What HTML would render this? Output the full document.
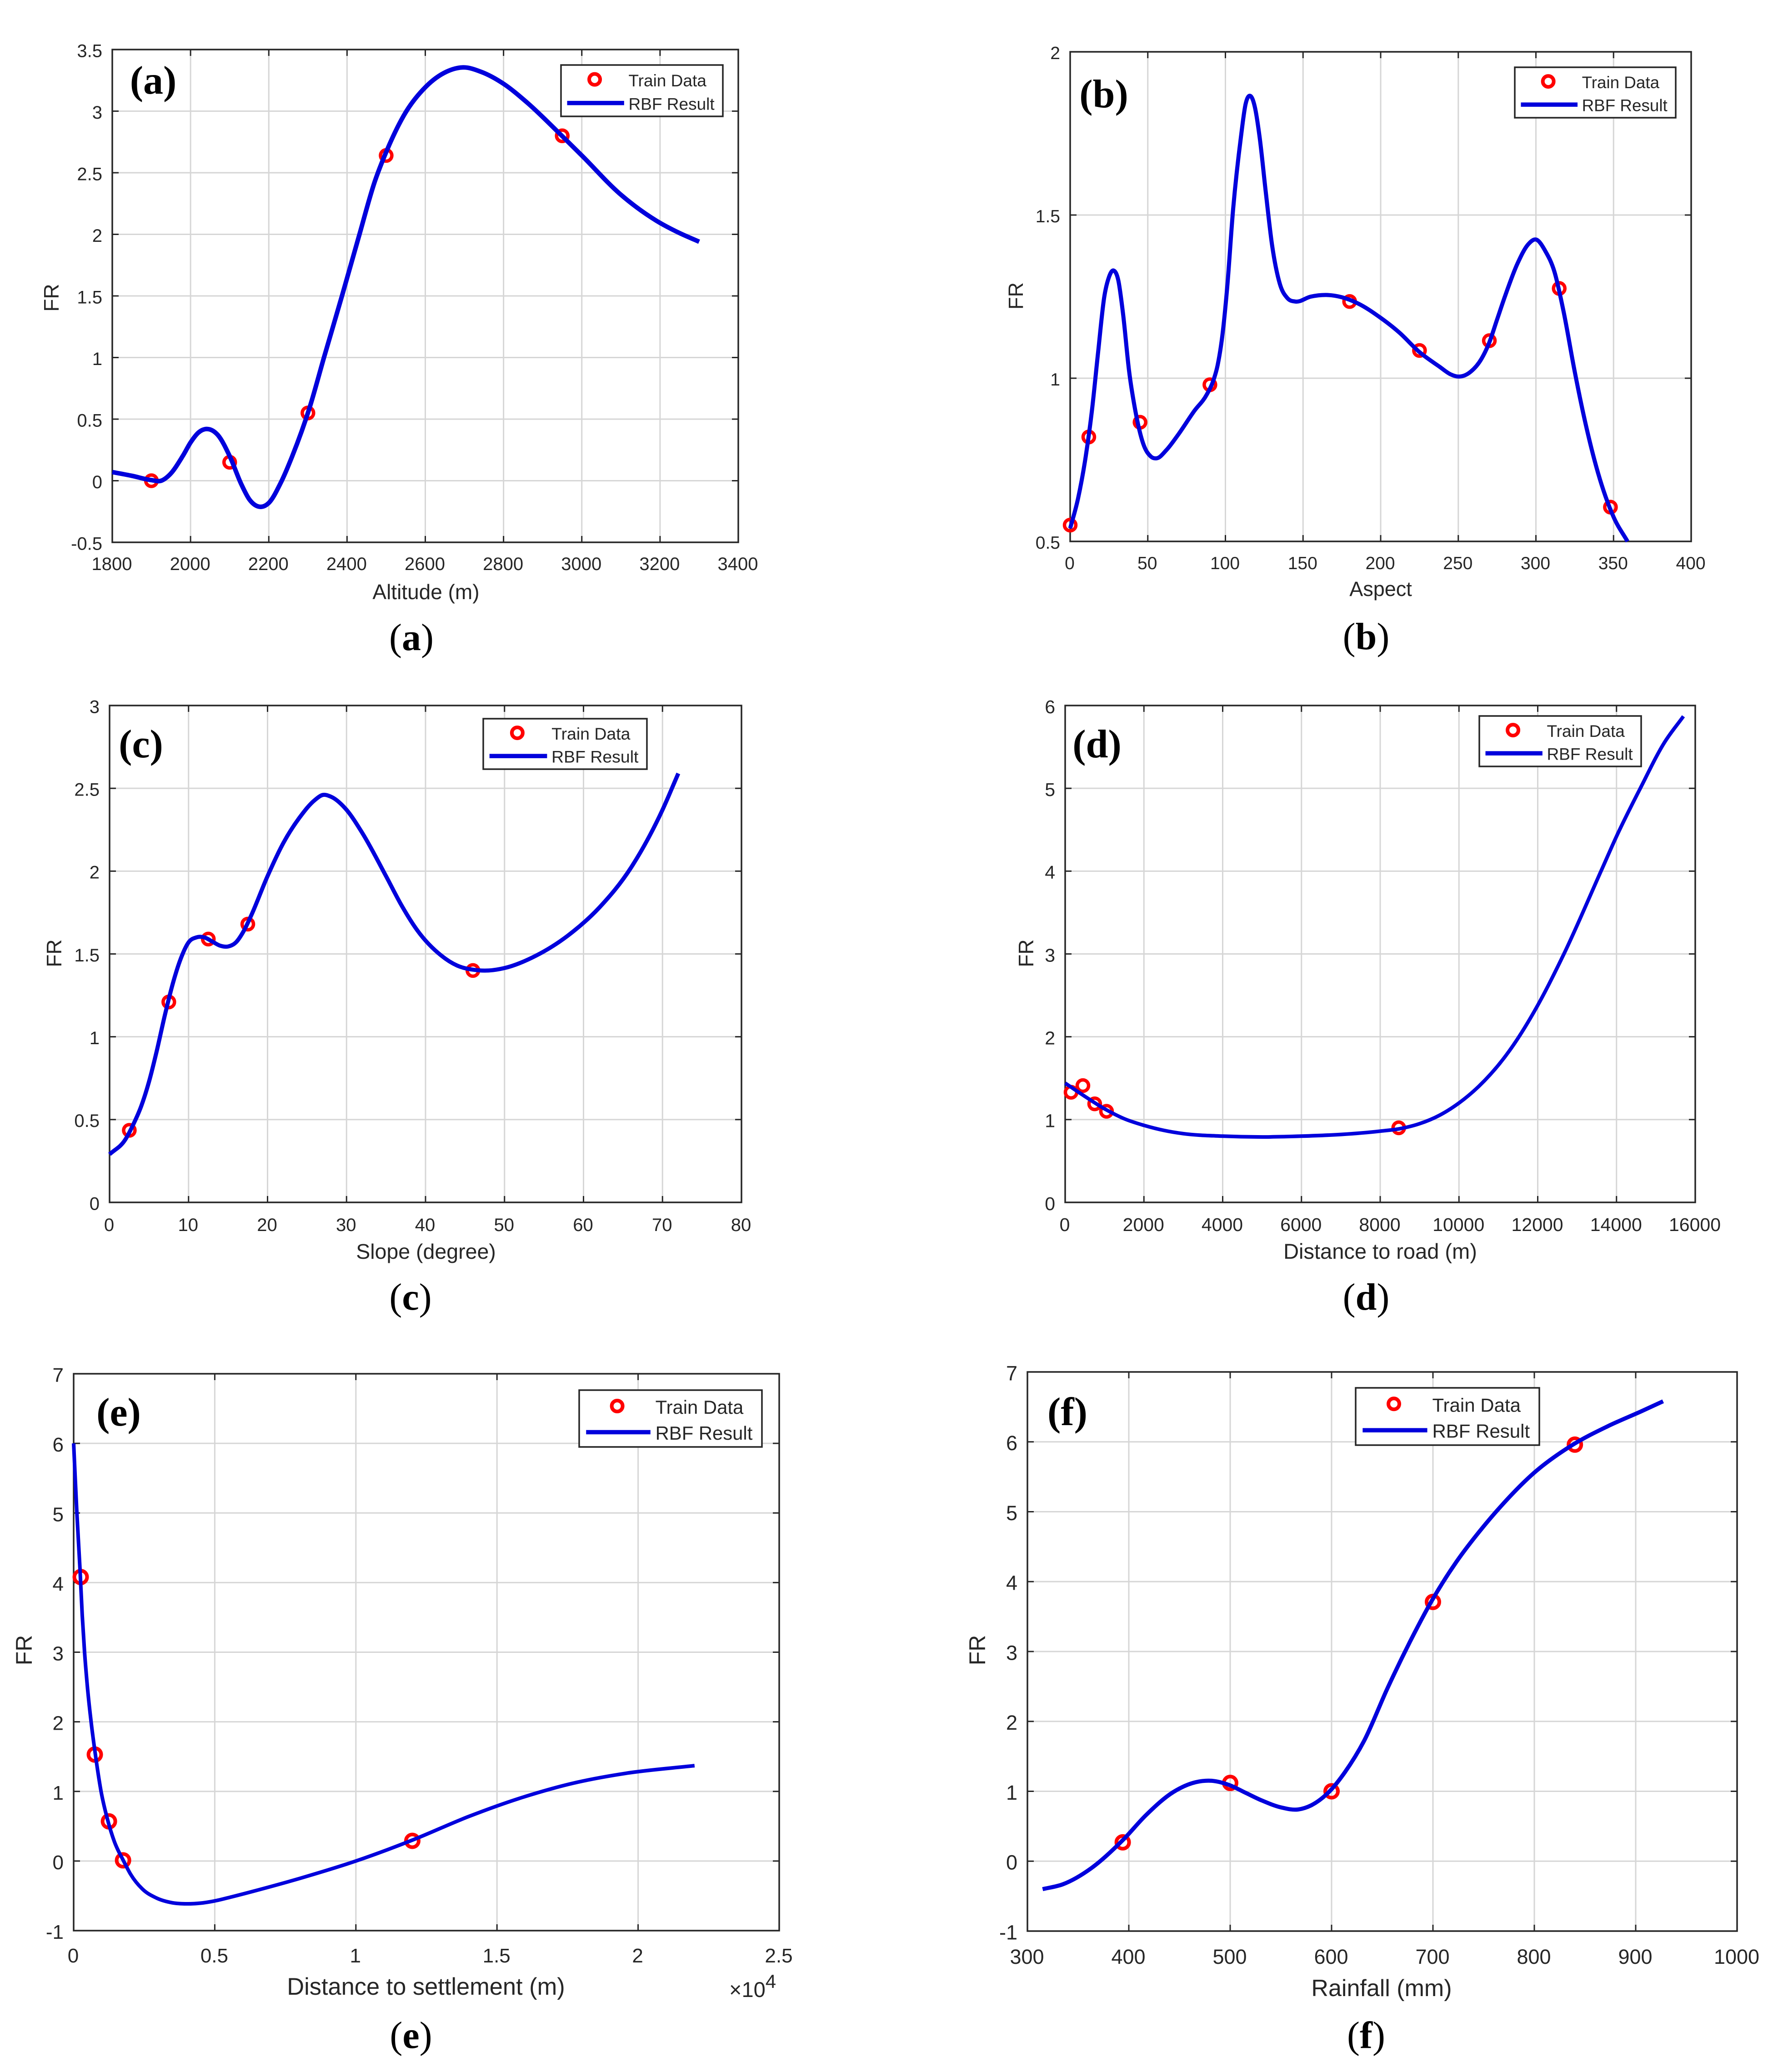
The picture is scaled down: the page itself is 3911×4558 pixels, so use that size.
<!DOCTYPE html>
<html lang="en">
<head>
<meta charset="utf-8">
<title>FR vs conditioning factors: RBF result and train data</title>
<style>
html,body{margin:0;padding:0;background:#fff;}
svg{display:block;}
text{font-family:"Liberation Sans",sans-serif;fill:#262626;}
.serif{font-family:"Liberation Serif",serif;fill:#000;}
</style>
</head>
<body>
<svg id="figure" width="3911" height="4558" viewBox="0 0 3911 4558" xmlns="http://www.w3.org/2000/svg">
<rect x="0" y="0" width="3911" height="4558" fill="#fff"></rect>
</svg>
<script>
// (a) Altitude
const altitudeCurveX = [1800,1850,1900,1925,1947,1980,2000,2020,2043,2070,2100,2130,2150,2174,2200,2230,2260,2305,2341,2388,2430,2471,2503,2548,2602,2654,2698,2742,2801,2860,2949,3000,3097,3191,3250,3300];
const altitudeCurveFR = [0.07,0.04,0.005,0.0,0.05,0.2,0.31,0.39,0.42,0.37,0.2,-0.03,-0.15,-0.21,-0.18,-0.02,0.2,0.6,1.0,1.51,1.98,2.43,2.69,2.98,3.2,3.32,3.355,3.32,3.22,3.07,2.8,2.64,2.33,2.11,2.01,1.94];
const altitudeTrainX = [1900,2100,2300,2500,2950];
const altitudeTrainFR = [0,0.15,0.55,2.64,2.8];
const altitudeXTicks = [1800,2000,2200,2400,2600,2800,3000,3200,3400];
const altitudeYTicks = [-0.5,0,0.5,1,1.5,2,2.5,3,3.5];

// (b) Aspect
const aspectCurveX = [0,5,10,14,18,22,25,28,31,34,38,42,47,52,56,62,70,80,88,92,95,98,101,105,110,113,116,119,122,126,130,135,140,145,155,165,175,185,200,212,225,238,245,250,258,265,270,275,280,288,295,300,306,312,318,325,332,340,350,359];
const aspectCurveFR = [0.54,0.63,0.76,0.9,1.08,1.25,1.31,1.33,1.3,1.2,1.02,0.9,0.8,0.76,0.755,0.78,0.83,0.9,0.95,0.99,1.04,1.13,1.27,1.52,1.74,1.84,1.865,1.83,1.74,1.57,1.41,1.29,1.245,1.235,1.25,1.255,1.248,1.23,1.185,1.14,1.08,1.035,1.012,1.005,1.02,1.06,1.11,1.18,1.25,1.35,1.41,1.425,1.39,1.325,1.2,1.02,0.86,0.71,0.575,0.5];
const aspectTrainX = [0,12,45,90,180,225,270,315,348];
const aspectTrainFR = [0.55,0.82,0.865,0.98,1.235,1.085,1.115,1.275,0.605];
const aspectXTicks = [0,50,100,150,200,250,300,350,400];
const aspectYTicks = [0.5,1,1.5,2];

// (c) Slope
const slopeCurveX = [0,2,3,4,5,6,7,8,9,10,11,12,13,14,15,16,17,18,20,22,24,26,27,28,30,32,35,37,39,42,44,46,48,50,54,58,62,66,70,72];
const slopeCurveFR = [0.29,0.38,0.47,0.58,0.73,0.92,1.13,1.32,1.47,1.57,1.6,1.6,1.575,1.55,1.545,1.57,1.64,1.74,1.97,2.17,2.32,2.43,2.46,2.45,2.37,2.23,1.97,1.79,1.64,1.49,1.43,1.405,1.4,1.415,1.49,1.61,1.78,2.02,2.37,2.59];
const slopeTrainX = [2.5,7.5,12.5,17.5,46];
const slopeTrainFR = [0.435,1.21,1.59,1.68,1.4];
const slopeXTicks = [0,10,20,30,40,50,60,70,80];
const slopeYTicks = [0,0.5,1,1.5,2,2.5,3];

// (d) Distance to road
const roadCurveX = [0,500,1000,1500,2000,2500,3000,4000,5000,6000,7000,8000,8500,9000,9500,10000,10500,11280,12000,12665,13607,14000,14604,15213,15700];
const roadCurveFR = [1.44,1.28,1.13,1.01,0.93,0.87,0.83,0.8,0.79,0.8,0.82,0.86,0.89,0.95,1.05,1.2,1.4,1.83,2.38,3.0,4.0,4.42,5.0,5.55,5.87];
const roadTrainX = [150,450,750,1050,8470];
const roadTrainFR = [1.33,1.41,1.19,1.1,0.9];
const roadXTicks = [0,2000,4000,6000,8000,10000,12000,14000,16000];
const roadYTicks = [0,1,2,3,4,5,6];

// (e) Distance to settlement
const settlementCurveX = [0,50,115,225,305,387,495,618,766,972,1211,1442,1771,2018,2430,2925,3500,4030,4500,4977,5600,6360,8010,10000,12000,14000,15870,17720,19570,22000];
const settlementCurveFR = [6.0,5.55,5.0,4.19,3.53,3.0,2.47,2.0,1.54,1.0,0.58,0.28,0.0,-0.19,-0.4,-0.53,-0.6,-0.615,-0.605,-0.575,-0.515,-0.435,-0.25,0.0,0.3,0.64,0.91,1.12,1.26,1.37];
const settlementTrainX = [250,750,1250,1750,12000];
const settlementTrainFR = [4.08,1.53,0.57,0.01,0.29];
const settlementXTicks = [0,5000,10000,15000,20000,25000];
const settlementXTickLabels = ["0","0.5","1","1.5","2","2.5"];
const settlementYTicks = [-1,0,1,2,3,4,5,6,7];

// (f) Rainfall
const rainfallCurveX = [315,335,363,394,417,444,466,482,499,515,531,550,567,580,600,613,632,655,677,699,723,746,769,800,837,872,906,927];
const rainfallCurveFR = [-0.4,-0.33,-0.1,0.3,0.66,0.99,1.13,1.15,1.09,0.98,0.87,0.77,0.74,0.8,1.03,1.27,1.72,2.47,3.13,3.73,4.28,4.72,5.11,5.56,5.95,6.22,6.44,6.58];
const rainfallTrainX = [394,500,600,700,840];
const rainfallTrainFR = [0.27,1.12,1.0,3.71,5.96];
const rainfallXTicks = [300,400,500,600,700,800,900,1000];
const rainfallYTicks = [-1,0,1,2,3,4,5,6,7];

const legendLabels = ["Train Data","RBF Result"];
const yAxisTitle = "FR";

const panels = [
  {id:"a",title:"Altitude (m)",cx:altitudeCurveX,cy:altitudeCurveFR,tx:altitudeTrainX,ty:altitudeTrainFR,xt:altitudeXTicks,yt:altitudeYTicks,
   box:[247,109,1624,1193],tf:40,lf:46,xo:61,xtx:937,xty:1318,fx:129,fy:655,ff:46,lg:[1234,143,1590,256],sw:10,mr:12.5,ms:7.5,pl:[337,206],cap:[905,1430]},
  {id:"b",title:"Aspect",cx:aspectCurveX,cy:aspectCurveFR,tx:aspectTrainX,ty:aspectTrainFR,xt:aspectXTicks,yt:aspectYTicks,
   box:[2354,114,3720,1191],tf:39,lf:45,xo:61,xtx:3037,xty:1311,fx:2250,fy:651,ff:45,lg:[3332,148,3686,259],sw:9,mr:12.5,ms:7.5,pl:[2428,236],cap:[3005,1428]},
  {id:"c",title:"Slope (degree)",cx:slopeCurveX,cy:slopeCurveFR,tx:slopeTrainX,ty:slopeTrainFR,xt:slopeXTicks,yt:slopeYTicks,
   box:[241,1552,1631,2645],tf:40,lf:46.5,xo:63,xtx:937,xty:2769,fx:135,fy:2097,ff:46,lg:[1063,1581,1423,1692],sw:9,mr:12.5,ms:7.5,pl:[310,1666],cap:[903,2881]},
  {id:"d",title:"Distance to road (m)",cx:roadCurveX,cy:roadCurveFR,tx:roadTrainX,ty:roadTrainFR,xt:roadXTicks,yt:roadYTicks,
   box:[2343,1552,3729,2645],tf:41,lf:47,xo:63,xtx:3036,xty:2769,fx:2273,fy:2097,ff:46,lg:[3254,1575,3610,1686],sw:8,mr:12.5,ms:7.5,pl:[2413,1666],cap:[3005,2881]},
  {id:"e",title:"Distance to settlement (m)",cx:settlementCurveX,cy:settlementCurveFR,tx:settlementTrainX,ty:settlementTrainFR,xt:settlementXTicks,xl:settlementXTickLabels,yt:settlementYTicks,
   box:[162,3022,1714,4247],tf:44,lf:52.4,xo:70,xtx:937,xty:4388,fx:70,fy:3630,ff:50,lg:[1274,3058,1676,3183],sw:8,mr:14,ms:8,pl:[261,3136],cap:[904,4505]},
  {id:"f",title:"Rainfall (mm)",cx:rainfallCurveX,cy:rainfallCurveFR,tx:rainfallTrainX,ty:rainfallTrainFR,xt:rainfallXTicks,yt:rainfallYTicks,
   box:[2260,3018,3821,4248],tf:45,lf:52,xo:72,xtx:3039,xty:4391,fx:2167,fy:3630,ff:50,lg:[2982,3053,3386,3179],sw:9,mr:14,ms:8,pl:[2348,3135],cap:[3005,4505]}
];

const NS = "http://www.w3.org/2000/svg";
const svg = document.getElementById("figure");
const INK = "#262626";
const GRID = "#d6d6d6";
const BLUE = "#0000dc";
const RED = "#ff0000";

function make(parent, tag, attrs, content) {
  const node = document.createElementNS(NS, tag);
  for (const k in attrs) node.setAttribute(k, attrs[k]);
  if (content !== undefined) node.textContent = content;
  parent.appendChild(node);
  return node;
}

function smoothPath(xs, ys) {
  const n = xs.length;
  const secant = [];
  for (let i = 0; i < n - 1; i++) secant.push((ys[i + 1] - ys[i]) / (xs[i + 1] - xs[i]));
  const slope = [secant[0]];
  for (let i = 1; i < n - 1; i++) {
    const h0 = xs[i] - xs[i - 1], h1 = xs[i + 1] - xs[i];
    slope.push((h1 * secant[i - 1] + h0 * secant[i]) / (h0 + h1));
  }
  slope.push(secant[n - 2]);
  let d = "M" + xs[0].toFixed(1) + " " + ys[0].toFixed(1);
  for (let i = 0; i < n - 1; i++) {
    const h = (xs[i + 1] - xs[i]) / 3;
    d += " C" + (xs[i] + h).toFixed(1) + " " + (ys[i] + slope[i] * h).toFixed(1) +
         " " + (xs[i + 1] - h).toFixed(1) + " " + (ys[i + 1] - slope[i + 1] * h).toFixed(1) +
         " " + xs[i + 1].toFixed(1) + " " + ys[i + 1].toFixed(1);
  }
  return d;
}

panels.forEach(function (p) {
  const L = p.box[0], T = p.box[1], R = p.box[2], B = p.box[3];
  const xMin = p.xt[0], xMax = p.xt[p.xt.length - 1];
  const yMin = p.yt[0], yMax = p.yt[p.yt.length - 1];
  const sx = function (v) { return L + (v - xMin) / (xMax - xMin) * (R - L); };
  const sy = function (v) { return B - (v - yMin) / (yMax - yMin) * (B - T); };

  const g = make(svg, "g", {});
  
  

  // grid
  p.xt.forEach(function (v) {
    const line = make(g, "line", {x1: sx(v), x2: sx(v), y1: T, y2: B, stroke: GRID, "stroke-width": 3});
    
    
  });
  p.yt.forEach(function (v) {
    const line = make(g, "line", {x1: L, x2: R, y1: sy(v), y2: sy(v), stroke: GRID, "stroke-width": 3});
    
    
  });

  // ticks
  p.xt.forEach(function (v, i) {
    const t1 = make(g, "line", {x1: sx(v), x2: sx(v), y1: B, y2: B - 14, stroke: INK, "stroke-width": 3});
    
    
    const t2 = make(g, "line", {x1: sx(v), x2: sx(v), y1: T, y2: T + 14, stroke: INK, "stroke-width": 3});
    
    
    const label = make(g, "text", {x: sx(v) - 1, y: B + p.xo, "text-anchor": "middle", "font-size": p.tf}, p.xl ? p.xl[i] : String(v));
    
    
  });
  p.yt.forEach(function (v) {
    const t1 = make(g, "line", {x1: L, x2: L + 14, y1: sy(v), y2: sy(v), stroke: INK, "stroke-width": 3});
    
    
    const t2 = make(g, "line", {x1: R, x2: R - 14, y1: sy(v), y2: sy(v), stroke: INK, "stroke-width": 3});
    
    
    const label = make(g, "text", {x: L - 22, y: sy(v) + p.tf * 0.41, "text-anchor": "end", "font-size": p.tf}, String(v));
    
    
  });

  // plot frame
  const frame = make(g, "rect", {x: L, y: T, width: R - L, height: B - T, fill: "none", stroke: INK, "stroke-width": 3.5});
  
  

  // train data markers
  p.tx.forEach(function (v, i) {
    const c = make(g, "circle", {cx: sx(v), cy: sy(p.ty[i]), r: p.mr, fill: "none", stroke: RED, "stroke-width": p.ms});
    
    
  });

  // RBF curve
  const curve = make(g, "path", {d: smoothPath(p.cx.map(sx), p.cy.map(sy)), fill: "none", stroke: BLUE, "stroke-width": p.sw, "stroke-linejoin": "round"});
  
  

  // axis titles
  const xTitle = make(g, "text", {x: p.xtx, y: p.xty, "text-anchor": "middle", "font-size": p.lf}, p.title);
  
  
  const yTitle = make(g, "text", {x: p.fx, y: p.fy, "text-anchor": "middle", "font-size": p.ff, transform: "rotate(-90 " + p.fx + " " + p.fy + ")"}, yAxisTitle);
  
  

  // legend
  const x0 = p.lg[0], y0 = p.lg[1], w = p.lg[2] - p.lg[0], h = p.lg[3] - p.lg[1];
  const lf = w * 0.104;
  const legend = make(g, "g", {});
  
  
  const lbox = make(legend, "rect", {x: x0, y: y0, width: w, height: h, fill: "#fff", stroke: INK, "stroke-width": 3.5});
  
  
  const lm = make(legend, "circle", {cx: x0 + 0.208 * w, cy: y0 + 0.28 * h, r: 12, fill: "none", stroke: RED, "stroke-width": 8});
  
  
  const lt1 = make(legend, "text", {x: x0 + 0.417 * w, y: y0 + 0.415 * h, "font-size": lf}, legendLabels[0]);
  
  
  const ll = make(legend, "line", {x1: x0 + 0.038 * w, x2: x0 + 0.39 * w, y1: y0 + 0.74 * h, y2: y0 + 0.74 * h, stroke: BLUE, "stroke-width": 9.5});
  
  
  const lt2 = make(legend, "text", {x: x0 + 0.417 * w, y: y0 + 0.87 * h, "font-size": lf}, legendLabels[1]);
  
  

  // panel letter inside the axes
  const letter = make(g, "text", {x: p.pl[0], y: p.pl[1], "text-anchor": "middle", "font-size": 88, "font-weight": "bold", "class": "serif"}, "(" + p.id + ")");
  
  

  // caption below the axes
  const cap = make(g, "text", {x: p.cap[0], y: p.cap[1], "text-anchor": "middle", "font-size": 84, "class": "serif"});
  
  
  make(cap, "tspan", {}, "(");
  make(cap, "tspan", {"font-weight": "bold"}, p.id);
  make(cap, "tspan", {}, ")");
});

// scale factor on panel (e)
const exponent = make(svg, "text", {x: 1604, y: 4393, "font-size": 47});


make(exponent, "tspan", {}, "\u00D710");
make(exponent, "tspan", {dy: -20, "font-size": 42}, "4");
</script>
</body>
</html>
